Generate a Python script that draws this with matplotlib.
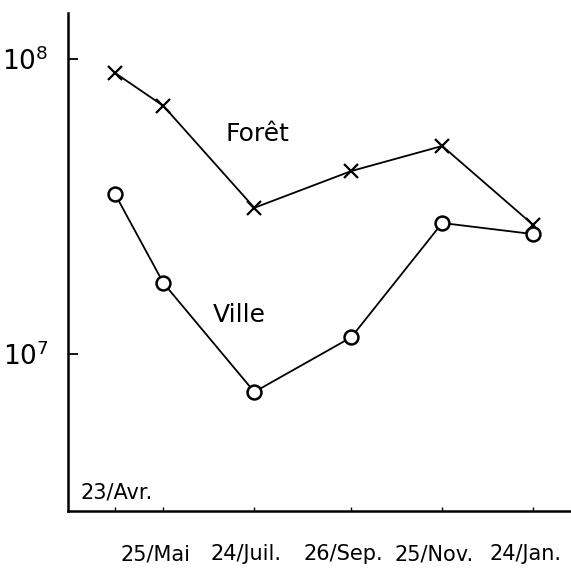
import matplotlib
matplotlib.use("Agg")
import matplotlib.pyplot as plt
import matplotlib.transforms as mtransforms
from matplotlib.ticker import FixedLocator, NullLocator

# dates des prélèvements (jours depuis le 23 avril)
jours = [0, 32, 92, 156, 216, 276]
dates = ["23/Avr.", "25/Mai", "24/Juil.", "26/Sep.", "25/Nov.", "24/Jan."]

# valeurs (échelle log)
foret = [8.97e7, 6.93e7, 3.13e7, 4.17e7, 5.07e7, 2.74e7]
ville = [3.49e7, 1.74e7, 7.44e6, 1.14e7, 2.78e7, 2.55e7]

fig = plt.figure(figsize=(5.71, 5.69), dpi=100)
ax = fig.add_axes([0.119, 0.102, 0.881, 0.875])

ax.plot(jours, foret, color="black", linewidth=1.3, marker="x",
        markersize=10.5, markeredgewidth=1.6)
ax.plot(jours, ville, color="black", linewidth=1.3, marker="o",
        markersize=10, markerfacecolor="white", markeredgewidth=1.8)

ax.set_yscale("log")
ax.set_xlim(-31, 301)
ax.set_ylim(2.94e6, 1.43e8)

# axes: seulement gauche et bas
ax.spines["top"].set_visible(False)
ax.spines["right"].set_visible(False)
ax.spines["left"].set_linewidth(1.8)
ax.spines["bottom"].set_linewidth(1.8)

ax.yaxis.set_major_locator(FixedLocator([1e7, 1e8]))
ax.yaxis.set_minor_locator(NullLocator())
ax.set_yticklabels([r"$10^{7}$", r"$10^{8}$"], fontsize=19)
ax.tick_params(axis="y", direction="in", length=7, width=1.3, pad=14)

ax.set_xticks(jours)
ax.set_xticklabels([""] + dates[1:], fontsize=15)
ax.tick_params(axis="x", direction="in", length=3, width=1.0, pad=24)
decalage = mtransforms.ScaledTranslation(-8 / 100, 0, fig.dpi_scale_trans)
for lab in ax.get_xticklabels():
    lab.set_transform(lab.get_transform() + decalage)

# première date écrite au-dessus de l'axe
ax.annotate(dates[0], xy=(jours[0], 0), xycoords=("data", "axes fraction"),
            xytext=(1, 6), textcoords="offset points",
            ha="center", va="bottom", fontsize=15)

ax.text(94, 5.57e7, "Forêt", fontsize=18, ha="center", va="center")
ax.text(82, 1.36e7, "Ville", fontsize=18, ha="center", va="center")

fig.savefig("out.png", dpi=100)
